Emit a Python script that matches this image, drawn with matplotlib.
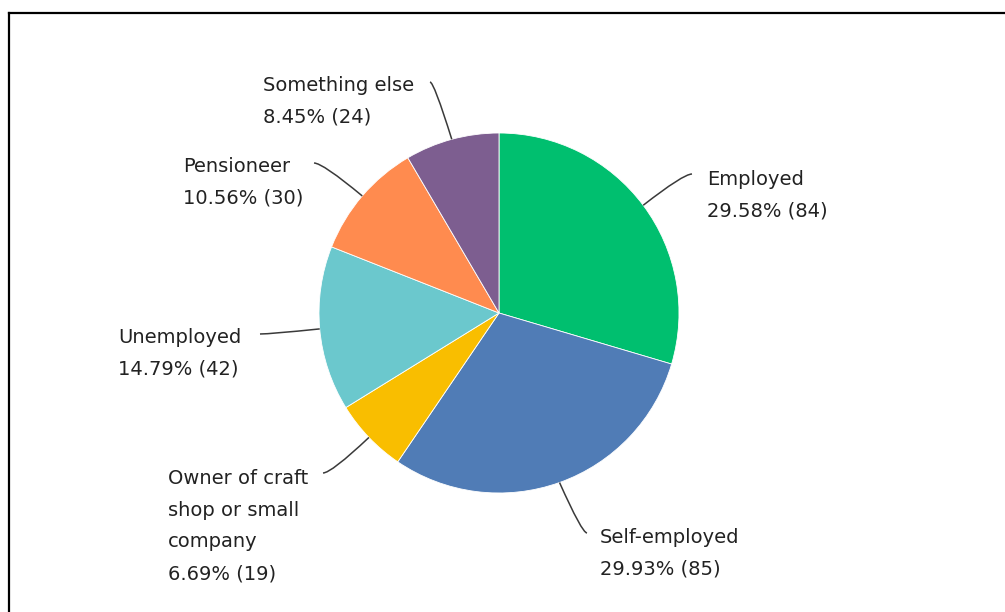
import numpy as np
import matplotlib
matplotlib.use("Agg")
import matplotlib.pyplot as plt
from matplotlib.path import Path
from matplotlib.patches import PathPatch
from matplotlib.lines import Line2D

# Survey answers: current occupation
labels = ["Employed", "Self-employed", "Owner of craft\nshop or small\ncompany",
          "Unemployed", "Pensioneer", "Something else"]
counts = [84, 85, 19, 42, 30, 24]
colors = ["#00BF6F", "#507CB6", "#F9BE00", "#6BC8CD", "#FF8B4F", "#7D5E90"]

# label layout in pixels (x of text left edge, y of block centre, leader end point)
W, H = 1005, 612
text_pos = [(707, 195), (600, 553), (168, 526), (118, 353), (183, 182), (263, 101)]
leader_end = [(692, 174), (587, 533), (323, 473), (260, 334), (314, 163), (430, 82)]

centre_px = (499, 313)
radius = 180

fig = plt.figure(figsize=(W / 100, H / 100), dpi=100)
ax = fig.add_axes([0, 0, 1, 1])

def Y(y):
    return H - y

cx, cy = centre_px[0], Y(centre_px[1])
wedges, _ = ax.pie(counts, colors=colors, startangle=90, counterclock=False,
                   center=(cx, cy), radius=radius,
                   wedgeprops=dict(edgecolor="white", linewidth=0.6))
ax.set_xlim(0, W)
ax.set_ylim(0, H)
ax.set_aspect("equal")
ax.axis("off")

total = sum(counts)
for w, lab, n, (tx, ty), (ex, ey) in zip(wedges, labels, counts, text_pos, leader_end):
    ang = np.deg2rad((w.theta1 + w.theta2) / 2)
    p0 = (cx + radius * np.cos(ang), cy + radius * np.sin(ang))
    p2 = (ex, Y(ey))
    p1 = (p0[0] + 0.82 * (p2[0] - p0[0]), p2[1])
    path = Path([p0, p1, p2], [Path.MOVETO, Path.CURVE3, Path.CURVE3])
    ax.add_patch(PathPatch(path, facecolor="none", edgecolor="#3a3a3a", lw=1.1))
    ax.text(tx, Y(ty), f"{lab}\n{n / total * 100:.2f}% ({n})", ha="left", va="center",
            fontsize=14, color="#222222", linespacing=1.86)

# frame on top and left
fig.add_artist(Line2D([8.5 / W, 8.5 / W], [0, 1 - 13 / H], transform=fig.transFigure,
                      color="black", lw=1.6))
fig.add_artist(Line2D([8.5 / W, 1], [1 - 13 / H, 1 - 13 / H], transform=fig.transFigure,
                      color="black", lw=1.6))

fig.savefig("out.png", dpi=100)
